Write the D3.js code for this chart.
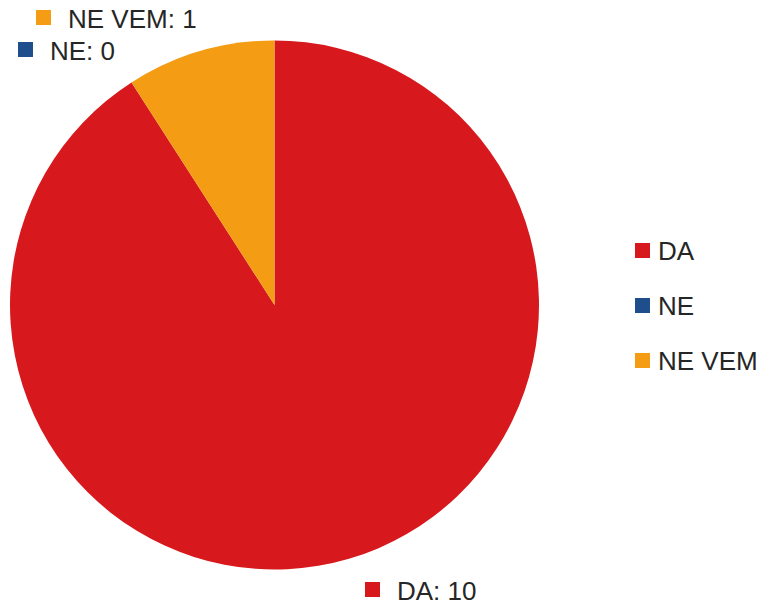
<!DOCTYPE html>
<html>
<head>
<meta charset="utf-8">
<script src="https://cdn.jsdelivr.net/npm/d3@7"></script>
<style>
html,body{margin:0;padding:0;background:#fff;}
svg{display:block;}
text{font-family:"Liberation Sans",Arial,sans-serif;fill:#262626;}
</style>
</head>
<body>
<svg id="chart" width="757" height="606"></svg>
<script>
const categories = ["DA", "NE", "NE VEM"];
const values = [10, 0, 1];
const colors = ["#D7191D", "#1F4E8C", "#F39C14"];

const svg = d3.select("#chart");
const cx = 274.5, cy = 305, r = 264.5;
const fontSize = 26;

const color = d3.scaleOrdinal().domain(categories).range(colors);
const data = categories.map((c, i) => ({cat: c, value: values[i]}));

const pie = d3.pie().sort(null).value(d => d.value);
const arc = d3.arc().innerRadius(0).outerRadius(r);
const arcs = pie(data);

const g = svg.append("g").attr("transform", `translate(${cx},${cy})`);
g.selectAll("path").data(arcs).enter().append("path")
  .attr("d", arc)
  .attr("fill", d => color(d.data.cat));

// data labels (positioned as in the original)
const labelPos = {
  "DA": {x: 365, y: 582},
  "NE": {x: 18, y: 42},
  "NE VEM": {x: 36, y: 10}
};
const lab = svg.append("g");
arcs.forEach(a => {
  const p = labelPos[a.data.cat];
  lab.append("rect").attr("x", p.x).attr("y", p.y).attr("width", 15).attr("height", 15)
    .attr("fill", color(a.data.cat));
  lab.append("text").attr("x", p.x + 32).attr("y", p.y + 17.5)
    .attr("font-size", fontSize)
    .text(`${a.data.cat}: ${a.data.value}`);
});

// legend
const legend = svg.append("g").attr("transform", "translate(635,243)");
const ly = d3.scalePoint().domain(categories).range([0, 110]);
const items = legend.selectAll("g").data(categories).enter().append("g")
  .attr("transform", d => `translate(0,${ly(d)})`);
items.append("rect").attr("width", 15).attr("height", 15).attr("fill", d => color(d));
items.append("text").attr("x", 23).attr("y", 17).attr("font-size", fontSize).text(d => d);
</script>
</body>
</html>
